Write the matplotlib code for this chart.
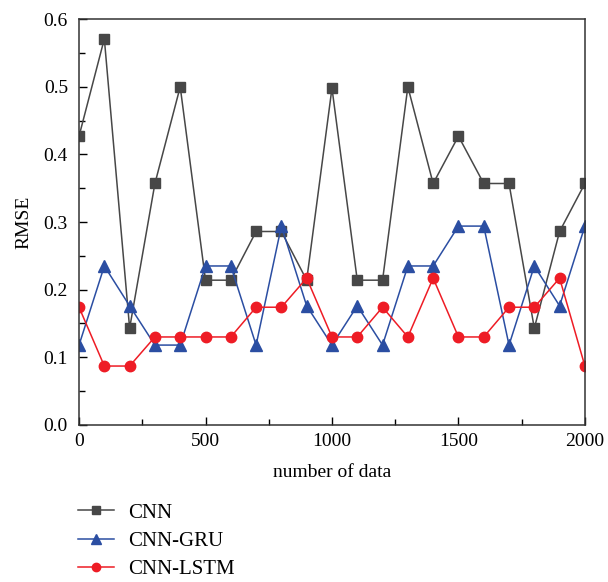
import numpy as np
import matplotlib
matplotlib.use("Agg")
import matplotlib.pyplot as plt
from matplotlib.ticker import MultipleLocator, FormatStrFormatter

plt.rcParams['font.family'] = ['Liberation Serif', 'DejaVu Serif']

x = np.arange(0, 2001, 100)
cnn = [0.427, 0.571, 0.143, 0.357, 0.500, 0.214, 0.214, 0.286, 0.286, 0.214, 0.498,
       0.214, 0.214, 0.500, 0.357, 0.427, 0.357, 0.357, 0.143, 0.286, 0.357]
cnn_gru = [0.118, 0.235, 0.176, 0.118, 0.118, 0.235, 0.235, 0.118, 0.294, 0.176, 0.118,
           0.176, 0.118, 0.235, 0.235, 0.294, 0.294, 0.118, 0.235, 0.176, 0.294]
cnn_lstm = [0.174, 0.087, 0.087, 0.130, 0.130, 0.130, 0.130, 0.174, 0.174, 0.217, 0.130,
            0.130, 0.174, 0.130, 0.217, 0.130, 0.130, 0.174, 0.174, 0.217, 0.087]

fig = plt.figure(figsize=(6.08, 5.82), dpi=100)
ax = fig.add_axes([0.13, 0.27, 0.832, 0.697])

ax.plot(x, cnn, color='#474747', marker='s', markersize=7, lw=1.1, label='CNN')
ax.plot(x, cnn_gru, color='#2b4ea2', marker='^', markersize=8.5, lw=1.1, label='CNN-GRU')
ax.plot(x, cnn_lstm, color='#ee1c25', marker='o', markersize=7.5, lw=1.1, label='CNN-LSTM')

ax.set_xlim(0, 2000)
ax.set_ylim(0, 0.6)
ax.xaxis.set_major_locator(MultipleLocator(500))
ax.xaxis.set_minor_locator(MultipleLocator(250))
ax.yaxis.set_major_locator(MultipleLocator(0.1))
ax.yaxis.set_minor_locator(MultipleLocator(0.05))
ax.yaxis.set_major_formatter(FormatStrFormatter('%.1f'))
ax.tick_params(which='both', direction='in', top=False, right=False, labelsize=14)
ax.tick_params(which='major', length=6, width=1)
ax.tick_params(which='minor', length=4, width=1)
ax.tick_params(axis='x', pad=6)
ax.tick_params(axis='y', pad=8)
for s in ax.spines.values():
    s.set_linewidth(1.1)
    s.set_color('#333333')

ax.set_xlabel('number of data', fontsize=14, labelpad=10)
ax.set_ylabel('RMSE', fontsize=14, labelpad=8)

fig.legend(loc='upper left', bbox_to_anchor=(0.115, 0.15), frameon=False, fontsize=15,
           handlelength=1.7, labelspacing=0.42, handletextpad=0.67, borderaxespad=0,
           markerscale=0.8)

fig.savefig('out.png', dpi=100)
